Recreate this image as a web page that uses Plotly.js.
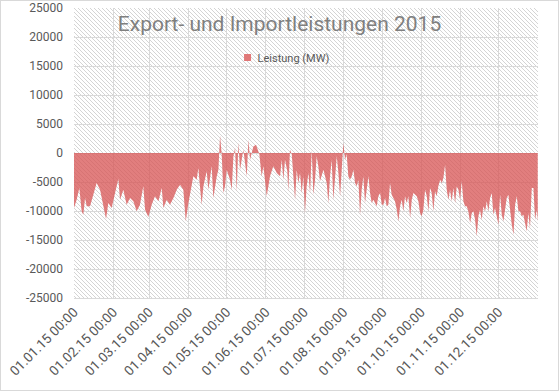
<!DOCTYPE html>
<html>
<head>
<meta charset="utf-8">
<script src="https://cdn.plot.ly/plotly-3.0.1.min.js"></script>
<style>
  html, body { margin: 0; padding: 0; background: #ffffff; }
  #wrap { position: relative; width: 559px; height: 391px; overflow: hidden; }
  #hatch { position: absolute; left: 74px; top: 8px; width: 464px; height: 290px;
    background-color: #ffffff;
    background-image: url("data:image/svg+xml,%3Csvg xmlns='http://www.w3.org/2000/svg' width='4' height='4' shape-rendering='crispEdges'%3E%3Crect x='0' y='0' width='1' height='1' fill='%23d4d4d4'/%3E%3Crect x='1' y='1' width='1' height='1' fill='%23d4d4d4'/%3E%3Crect x='2' y='2' width='1' height='1' fill='%23d4d4d4'/%3E%3Crect x='3' y='3' width='1' height='1' fill='%23d4d4d4'/%3E%3C/svg%3E");
    background-size: 4px 4px; background-repeat: repeat; }
  #chart { position: absolute; left: 0; top: 0; width: 559px; height: 391px; }
  #frame { position: absolute; left: 0; top: 0; width: 559px; height: 391px; box-sizing: border-box;
    border: 1px solid #d9d9d9; pointer-events: none; }
</style>
</head>
<body>
<div id="wrap">
  <div id="hatch"></div>
  <div id="chart"></div>
  <div id="frame"></div>
</div>
<script>
// Day of year (0 = 01.01.2015 00:00) of each sampled point
const dayOfYear = [
  0,2.1,4.2,6.0,7.3,8.7,10.0,12.6,15.2,17.8,
  20.5,23.1,25.2,27.0,29.6,32.3,34.9,36.2,38.8,41.4,
  44.1,46.7,49.3,51.9,54.5,55.9,58.5,61.1,63.7,66.4,
  69.0,70.3,72.9,75.5,78.2,80.8,83.4,86.0,87.9,90.0,
  92.6,93.9,96.5,97.8,100.4,101.8,104.4,105.7,108.3,109.6,
  112.3,113.6,114.9,116.2,117.5,118.8,120.1,122.7,124.1,125.4,
  126.7,128.0,129.3,130.6,133.2,135.9,137.2,138.5,141.1,143.2,
  145.8,147.6,149.0,151.6,154.2,156.8,159.5,
  162.1,163.4,164.7,166.0,167.8,168.6,169.9,171.3,172.6,173.9,
  175.2,176.5,177.8,179.1,180.4,181.7,183.0,184.4,185.7,187.0,
  188.3,189.6,190.9,192.2,193.5,196.2,198.8,200.1,201.4,202.7,
  204.0,205.3,206.7,208.0,209.3,210.6,211.9,213.2,214.5,215.8,
  217.1,218.5,219.8,221.1,222.4,223.7,225.0,226.3,227.6,228.9,
  230.3,231.6,232.9,234.2,235.5,238.1,239.4,240.8,242.1,243.4,
  244.7,246.0,247.3,248.6,249.9,251.2,252.5,253.9,255.2,256.5,
  257.8,259.1,260.4,261.7,263.0,264.4,265.7,267.0,269.6,270.9,
  272.2,273.5,274.8,276.2,277.5,278.8,280.1,281.4,282.7,284.0,
  285.3,286.6,288.0,289.3,290.6,291.9,293.2,294.5,295.8,297.1,
  298.4,299.8,301.1,302.4,303.7,305.0,306.3,307.6,308.9,310.2,
  311.6,312.9,314.2,315.5,316.8,318.1,319.4,320.7,322.0,323.4,
  324.7,326.0,327.3,328.6,329.9,331.2,332.5,333.9,335.2,336.5,
  337.8,339.1,340.4,341.7,343.0,344.4,345.7,347.0,348.3,349.6,
  350.9,352.2,353.5,354.8,356.1,357.4,358.7,360.1,361.4,362.7,
  364.0,364.8
];

// Leistung (MW): positive = export, negative = import
const leistungMW = [
  -9500,-8050,-6030,-10060,-10630,-7760,-9200,-9200,-7180,-5170,
  -6320,-8910,-11380,-8620,-9480,-6900,-4480,-8050,-6320,-8910,
  -7760,-8330,-10060,-8910,-5750,-9770,-11030,-8910,-7470,-8330,
  -6030,-9480,-8050,-8910,-7760,-6320,-5460,-6320,-11780,-8620,
  -5750,-4020,-4600,-2590,-8910,-5750,-3160,-6320,-2300,-7760,
  -4020,-2870,2980,-300,-6900,-5750,-2870,-4600,-6320,-580,
  860,-6610,1830,-2870,570,-4020,2290,-1150,1140,1430,
  -200,-4020,-2300,-7470,-4020,-2300,-3450,
  -4020,-1150,-4600,-1150,-3160,-6610,580,-200,-4600,-8050,
  -2870,-5170,-3450,-6900,-4020,-10340,-5750,-3450,-6900,580,
  -7180,-4600,-580,-2300,-4890,-2870,-5170,-8620,-4020,-1150,
  -8050,-4600,-580,-3450,-7470,-2870,1720,-1150,-200,-4020,
  -4600,-4020,-2870,-5170,-5750,-4600,-10630,-6320,-4020,-8620,
  -5750,-4020,-6900,-8620,-8050,-9200,-7470,-6900,-8910,-8910,
  -7760,-9200,-8910,-5170,-7180,-7760,-8330,-9770,-11780,-9200,
  -8050,-10060,-7470,-8620,-7470,-11210,-8050,-6900,-7470,-8330,
  -10340,-10920,-9770,-6320,-7470,-10060,-6030,-6900,-10060,-6610,
  -7470,-5750,-4600,-5170,-4310,-2010,-6320,-8050,-6320,-8330,
  -6030,-8620,-5750,-6320,-8050,-4890,-8330,-9200,-9200,-10060,
  -12070,-10340,-10060,-11490,-14370,-10920,-9770,-11490,-9200,-10060,
  -8330,-10060,-7760,-6900,-10630,-9480,-10920,-12360,-7180,-10630,
  -11780,-9770,-7760,-7180,-10340,-12360,-14080,-8910,-7470,-10060,
  -10060,-10920,-10630,-12360,-13510,-10340,-12930,-6030,-6030,-11490,
  -9770,-11780
];

const monthTicks = ['2015-01-01','2015-02-01','2015-03-01','2015-04-01','2015-05-01','2015-06-01',
  '2015-07-01','2015-08-01','2015-09-01','2015-10-01','2015-11-01','2015-12-01'];
const monthLabels = ['01.01.15 00:00','01.02.15 00:00','01.03.15 00:00','01.04.15 00:00',
  '01.05.15 00:00','01.06.15 00:00','01.07.15 00:00','01.08.15 00:00',
  '01.09.15 00:00','01.10.15 00:00','01.11.15 00:00','01.12.15 00:00'];
const yTicks = [25000,20000,15000,10000,5000,0,-5000,-10000,-15000,-20000,-25000];

const base = Date.UTC(2015, 0, 1);
const xs = dayOfYear.map(d => base + d * 86400000);

const fillCol = 'rgba(216, 86, 86, 0.76)';
const traces = [
  {
    type: 'scatter', mode: 'lines', x: xs, y: leistungMW,
    fill: 'tozeroy', fillcolor: fillCol,
    line: { width: 0, color: fillCol }, showlegend: false, hoverinfo: 'x+y'
  },
  {
    type: 'scatter', mode: 'markers', x: [null], y: [null], name: 'Leistung (MW)',
    marker: { symbol: 'square', size: 7, color: '#e07878' }, showlegend: true
  }
];

const layout = {
  width: 559, height: 391,
  margin: { l: 74, r: 21, t: 8, b: 93 },
  paper_bgcolor: 'rgba(0,0,0,0)', plot_bgcolor: 'rgba(0,0,0,0)',
  font: { family: 'Roboto, "Liberation Sans", sans-serif', color: '#595959', size: 11 },
  title: {
    text: 'Export- und Importleistungen 2015',
    font: { family: 'Roboto, "Liberation Sans", sans-serif', size: 21, color: '#7f7f7f' },
    x: 0.5, xanchor: 'center', xref: 'container', y: 1 - 24/391, yanchor: 'middle', yref: 'container'
  },
  showlegend: true,
  legend: {
    orientation: 'h', x: 0.457, xanchor: 'center', y: 0.829, yanchor: 'middle',
    bgcolor: 'rgba(0,0,0,0)', font: { size: 11, color: '#595959' },
    itemwidth: 30
  },
  xaxis: {
    type: 'date',
    range: [base, base + 365 * 86400000],
    tickmode: 'array', tickvals: monthTicks, ticktext: monthLabels,
    tickangle: -45, showgrid: true, gridcolor: '#d9d9d9', gridwidth: 1,
    showline: true, linecolor: '#d9d9d9', zeroline: false, ticks: '',
    tickfont: { size: 13.5, color: '#595959' }, fixedrange: true
  },
  yaxis: {
    range: [-25000, 25000], tickmode: 'array', tickvals: yTicks,
    ticktext: yTicks.map(String), ticklabelstandoff: 10,
    showgrid: true, gridcolor: '#d9d9d9', gridwidth: 1, zeroline: false,
    showline: false, ticks: '', tickfont: { size: 12, color: '#595959' },
    fixedrange: true
  }
};

Plotly.newPlot('chart', traces, layout, { displayModeBar: false, staticPlot: true }).then(gd => {
  // tighten the gap between the legend symbol and its label
  gd.querySelectorAll('.legendtext').forEach(t => t.setAttribute('x', 30));
});
</script>
</body>
</html>
